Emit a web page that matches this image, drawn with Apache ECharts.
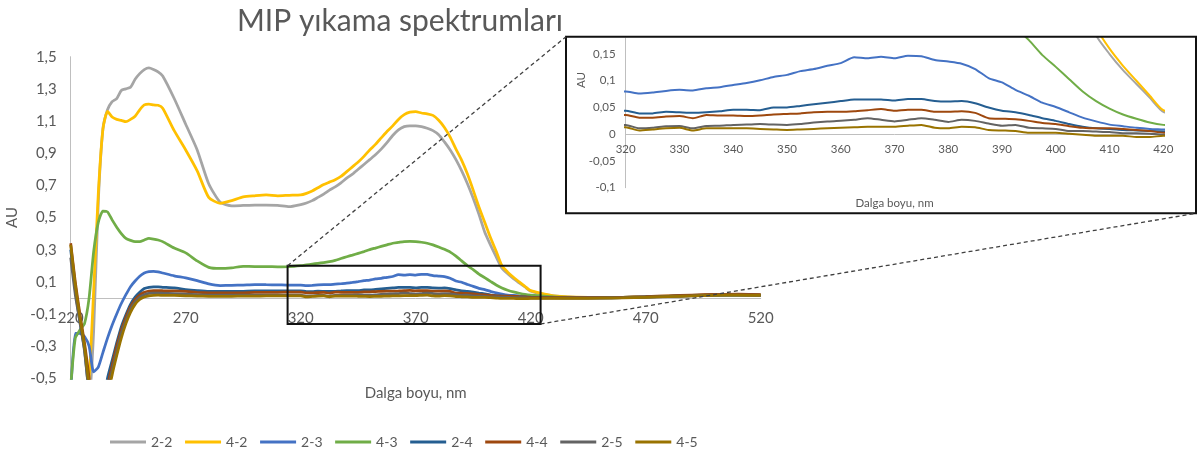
<!DOCTYPE html>
<html>
<head>
<meta charset="utf-8">
<script src="https://cdn.jsdelivr.net/npm/echarts@6/dist/echarts.min.js"></script>
<style>
  html, body { margin: 0; padding: 0; background: #fff; }
  #chart { width: 1198px; height: 457px; }
</style>
</head>
<body>
<div id="chart"></div>
<script>
// Wavelengths (nm) shared by every spectrum
const wavelengths = [
  220, 222, 224, 226, 228, 230, 232, 234, 236, 238, 240, 242, 244, 246, 248, 250, 252, 254, 256, 258, 260,
  265, 270, 275, 280, 285, 290, 295, 300, 305, 310, 315,
  320, 322.5, 325, 327.5, 330, 332.5, 335, 337.5, 340, 342.5,
  345, 347.5, 350, 352.5, 355, 357.5, 360, 362.5, 365, 367.5,
  370, 372.5, 375, 377.5, 380, 382.5, 385, 387.5, 390, 392.5,
  395, 397.5, 400, 402.5, 405, 407.5, 410, 412.5, 415, 417.5,
  420,
  430, 440, 450, 460, 470, 480, 490, 500, 510, 520
];

// Absorbance (AU) of each wash
const s22 = [
  -0.7, -0.7, -0.7, -0.7, -0.65, -0.2, 0.6, 1.05, 1.17, 1.22, 1.24, 1.29, 1.30, 1.31, 1.36, 1.395, 1.42, 1.43, 1.42, 1.405, 1.38,
  1.24, 1.08, 0.92, 0.71, 0.595, 0.573, 0.575, 0.577, 0.577, 0.575, 0.567,
  0.58, 0.59, 0.605, 0.625, 0.645, 0.67, 0.69, 0.715, 0.745, 0.77,
  0.80, 0.83, 0.86, 0.89, 0.925, 0.965, 1.01, 1.045, 1.065, 1.07,
  1.07, 1.065, 1.055, 1.04, 1.015, 0.97, 0.92, 0.86, 0.79, 0.71,
  0.62, 0.52, 0.41, 0.33, 0.255, 0.185, 0.15, 0.12, 0.094, 0.068,
  0.042,
  0.012, 0.004, 0.002, 0.004, 0.007, 0.011, 0.015, 0.018, 0.018, 0.017
];
const s42 = [
  -0.7, -0.7, -0.7, -0.7, -0.5, 0.05, 0.65, 1.05, 1.16, 1.125, 1.11, 1.104, 1.096, 1.11, 1.13, 1.17, 1.2, 1.205, 1.2, 1.198, 1.18,
  1.04, 0.92, 0.79, 0.625, 0.588, 0.605, 0.628, 0.635, 0.64, 0.635, 0.638,
  0.64, 0.65, 0.665, 0.685, 0.705, 0.72, 0.735, 0.755, 0.785, 0.815,
  0.845, 0.88, 0.92, 0.955, 0.995, 1.035, 1.07, 1.11, 1.14, 1.155,
  1.158, 1.15, 1.145, 1.135, 1.105, 1.06, 1.0, 0.925, 0.855, 0.77,
  0.67, 0.565, 0.47, 0.375, 0.29, 0.2, 0.16, 0.128, 0.1, 0.072,
  0.045,
  0.013, 0.005, 0.002, 0.004, 0.007, 0.011, 0.015, 0.019, 0.019, 0.018
];
const s23 = [
  -0.6, -0.22, -0.22, -0.24, -0.3, -0.46, -0.43, -0.34, -0.25, -0.17, -0.1, -0.035, 0.02, 0.07, 0.105, 0.135, 0.155, 0.163, 0.165, 0.162, 0.155,
  0.137, 0.124, 0.107, 0.087, 0.077, 0.078, 0.08, 0.083, 0.082, 0.081, 0.079,
  0.08, 0.076, 0.078, 0.081, 0.083, 0.082, 0.086, 0.088, 0.092, 0.096,
  0.101, 0.107, 0.111, 0.118, 0.122, 0.128, 0.133, 0.144, 0.142, 0.145,
  0.142, 0.147, 0.146, 0.139, 0.136, 0.132, 0.122, 0.105, 0.097, 0.083,
  0.072, 0.059, 0.051, 0.041, 0.031, 0.024, 0.018, 0.015, 0.012, 0.01,
  0.009,
  0.004, 0.002, 0.001, 0.003, 0.006, 0.01, 0.014, 0.017, 0.018, 0.016
];
const s43 = [
  -0.55, -0.25, -0.2, -0.16, 0.0, 0.29, 0.47, 0.54, 0.535, 0.485, 0.44, 0.4, 0.37, 0.358, 0.35, 0.35, 0.36, 0.37, 0.366, 0.36, 0.35,
  0.31, 0.28, 0.23, 0.19, 0.183, 0.187, 0.196, 0.195, 0.195, 0.193, 0.194,
  0.2, 0.205, 0.21, 0.215, 0.22, 0.225, 0.233, 0.245, 0.256, 0.266,
  0.277, 0.288, 0.3, 0.31, 0.32, 0.33, 0.34, 0.345, 0.35, 0.351,
  0.35, 0.346, 0.34, 0.33, 0.317, 0.302, 0.285, 0.26, 0.23, 0.2,
  0.176, 0.148, 0.126, 0.103, 0.08, 0.062, 0.048, 0.037, 0.029, 0.022,
  0.0175,
  0.007, 0.003, 0.001, 0.003, 0.006, 0.01, 0.014, 0.018, 0.018, 0.017
];
const s24 = [
  0.3, 0.05, -0.15, -0.32, -0.6, -0.8, -0.8, -0.7, -0.5, -0.39, -0.28, -0.18, -0.105, -0.04, 0.005, 0.035, 0.058, 0.066, 0.068, 0.068, 0.066,
  0.062, 0.052, 0.045, 0.04, 0.04, 0.04, 0.041, 0.043, 0.043, 0.043, 0.043,
  0.044, 0.039, 0.039, 0.042, 0.041, 0.04, 0.041, 0.043, 0.046, 0.046,
  0.045, 0.05, 0.05, 0.053, 0.056, 0.059, 0.062, 0.065, 0.065, 0.065,
  0.063, 0.066, 0.066, 0.062, 0.061, 0.062, 0.058, 0.05, 0.044, 0.041,
  0.036, 0.03, 0.025, 0.019, 0.014, 0.011, 0.01, 0.008, 0.007, 0.006,
  0.005,
  0.002, 0.0, 0.0, 0.002, 0.006, 0.01, 0.015, 0.019, 0.02, 0.018
];
const s44 = [
  0.34, 0.1, -0.1, -0.28, -0.5, -0.8, -0.8, -0.75, -0.55, -0.42, -0.3, -0.2, -0.12, -0.055, -0.01, 0.018, 0.035, 0.043, 0.046, 0.046, 0.045,
  0.043, 0.04, 0.035, 0.032, 0.031, 0.031, 0.032, 0.034, 0.035, 0.035, 0.036,
  0.036, 0.031, 0.031, 0.033, 0.034, 0.03, 0.036, 0.035, 0.035, 0.034,
  0.035, 0.037, 0.038, 0.039, 0.041, 0.042, 0.042, 0.043, 0.045, 0.047,
  0.044, 0.046, 0.046, 0.042, 0.042, 0.043, 0.04, 0.03, 0.029, 0.028,
  0.025, 0.021, 0.019, 0.015, 0.012, 0.011, 0.011, 0.01, 0.008, 0.006,
  0.003,
  0.001, 0.001, 0.001, 0.004, 0.008, 0.013, 0.018, 0.022, 0.023, 0.021
];
const s25 = [
  0.25, 0.02, -0.15, -0.33, -0.6, -0.8, -0.8, -0.75, -0.58, -0.45, -0.33, -0.22, -0.14, -0.07, -0.025, 0.005, 0.02, 0.028, 0.03, 0.03, 0.029,
  0.027, 0.024, 0.02, 0.018, 0.017, 0.017, 0.017, 0.017, 0.017, 0.017, 0.017,
  0.0175, 0.011, 0.012, 0.015, 0.0155, 0.011, 0.0155, 0.016, 0.0175, 0.018,
  0.019, 0.018, 0.0175, 0.019, 0.022, 0.024, 0.025, 0.027, 0.03, 0.027,
  0.024, 0.027, 0.03, 0.027, 0.023, 0.027, 0.025, 0.02, 0.016, 0.0175,
  0.012, 0.011, 0.01, 0.006, 0.006, 0.005, 0.004, 0.002, 0.002, 0.001,
  -0.001,
  -0.001, -0.002, -0.001, 0.001, 0.005, 0.009, 0.013, 0.017, 0.018, 0.016
];
const s45 = [
  0.33, 0.08, -0.12, -0.3, -0.55, -0.8, -0.8, -0.8, -0.62, -0.48, -0.36, -0.25, -0.16, -0.09, -0.04, -0.01, 0.005, 0.013, 0.016, 0.017, 0.016,
  0.015, 0.013, 0.011, 0.01, 0.01, 0.01, 0.011, 0.011, 0.012, 0.012, 0.012,
  0.013, 0.007, 0.009, 0.011, 0.012, 0.007, 0.011, 0.011, 0.011, 0.011,
  0.01, 0.009, 0.008, 0.009, 0.01, 0.011, 0.012, 0.013, 0.014, 0.014,
  0.014, 0.016, 0.0175, 0.012, 0.011, 0.014, 0.013, 0.008, 0.007, 0.006,
  0.003, 0.003, 0.003, 0.001, -0.001, -0.003, -0.003, -0.003, -0.005, -0.005,
  -0.003,
  -0.003, -0.003, -0.002, 0.0, 0.004, 0.008, 0.012, 0.016, 0.017, 0.015
];

const seriesNames = ['2-2', '4-2', '2-3', '4-3', '2-4', '4-4', '2-5', '4-5'];
const seriesValues = [s22, s42, s23, s43, s24, s44, s25, s45];
const seriesColors = ['#A5A5A5', '#FFC000', '#4472C4', '#70AD47', '#255E91', '#9E480E', '#636363', '#997300'];

// Axis ticks
const mainXTicks = { min: 220, max: 520, step: 50 };
const mainYTicks = { min: -0.5, max: 1.5, step: 0.2 };
const zoomXTicks = { min: 320, max: 420, step: 10 };
const zoomYTicks = { min: -0.1, max: 0.18, step: 0.05 };
// Zoomed window marked on the main plot
const zoomWindow = { x0: 314.3, x1: 424.3, y0: -0.162, y1: 0.2 };

const FONT = 'Lato, "Open Sans", sans-serif';
const TEXT = '#595959';
const AXIS = '#BFBFBF';

const MAIN_GRID = { left: 70.7, top: 56.7, width: 690, height: 321.6 };
const ZOOM_GRID = { left: 625.7, top: 38, width: 537.6, height: 149.7 };
const INSET_BOX = { x: 566, y: 36.7, w: 630, h: 176.6 };

// Lift each horizontal axis from the grid bottom up to the zero level
const zeroLift = (grid, t) => -grid.height * (0 - t.min) / (t.max - t.min);

const chart = echarts.init(document.getElementById('chart'), null, { renderer: 'canvas' });

const pairs = vals => wavelengths.map((w, i) => [w, vals[i]]);
const comma = (v, d) => {
  const r = Math.round(v * Math.pow(10, d)) / Math.pow(10, d);
  return String(r).replace('.', ',');
};

const series = [];
seriesNames.forEach((name, i) => {
  series.push({
    name, type: 'line', xAxisIndex: 0, yAxisIndex: 0,
    data: pairs(seriesValues[i]), showSymbol: false, smooth: 0.2,
    lineStyle: { color: seriesColors[i], width: 2.75 }, itemStyle: { color: seriesColors[i] },
    clip: true, silent: true
  });
});
seriesNames.forEach((name, i) => {
  series.push({
    name, type: 'line', xAxisIndex: 1, yAxisIndex: 1,
    data: pairs(seriesValues[i]), showSymbol: false, smooth: 0.2,
    lineStyle: { color: seriesColors[i], width: 2 }, itemStyle: { color: seriesColors[i] },
    clip: true, silent: true
  });
});

chart.setOption({
  animation: false,
  backgroundColor: '#fff',
  textStyle: { fontFamily: FONT },
  grid: [
    Object.assign({ containLabel: false, outerBoundsMode: 'none' }, MAIN_GRID),
    Object.assign({ containLabel: false, outerBoundsMode: 'none' }, ZOOM_GRID)
  ],
  legend: {
    data: seriesNames, left: 110, top: 435, padding: 0,
    icon: 'rect', itemWidth: 36, itemHeight: 3, itemGap: 12.6,
    textStyle: { color: TEXT, fontSize: 14, fontFamily: FONT },
    selectedMode: false
  },
  xAxis: [
    {
      type: 'value', gridIndex: 0, min: mainXTicks.min, max: mainXTicks.max, interval: mainXTicks.step,
      position: 'bottom', offset: zeroLift(MAIN_GRID, mainYTicks),
      axisLine: { onZero: false, lineStyle: { color: AXIS, width: 1 } },
      axisTick: { show: false }, splitLine: { show: false },
      axisLabel: { color: TEXT, fontSize: 15, margin: 13, fontFamily: FONT },
      name: 'Dalga boyu, nm', nameLocation: 'middle', nameGap: 88,
      nameTextStyle: { color: TEXT, fontSize: 15, fontFamily: FONT }
    },
    {
      type: 'value', gridIndex: 1, min: zoomXTicks.min, max: zoomXTicks.max, interval: zoomXTicks.step,
      position: 'bottom', offset: zeroLift(ZOOM_GRID, zoomYTicks),
      axisLine: { onZero: false, lineStyle: { color: AXIS, width: 1 } },
      axisTick: { show: false }, splitLine: { show: false },
      axisLabel: { color: TEXT, fontSize: 11.5, margin: 9.5, fontFamily: FONT },
      name: 'Dalga boyu, nm', nameLocation: 'middle', nameGap: 63,
      nameTextStyle: { color: TEXT, fontSize: 11.5, fontFamily: FONT }
    }
  ],
  yAxis: [
    {
      type: 'value', gridIndex: 0, min: mainYTicks.min, max: mainYTicks.max, interval: mainYTicks.step,
      axisLine: { show: true, onZero: false, lineStyle: { color: AXIS, width: 1 } },
      axisTick: { show: false }, splitLine: { show: false },
      axisLabel: { color: TEXT, fontSize: 15, margin: 14, fontFamily: FONT, formatter: v => comma(v, 1) },
      name: 'AU', nameLocation: 'middle', nameGap: 46,
      nameTextStyle: { color: TEXT, fontSize: 15, fontFamily: FONT }
    },
    {
      type: 'value', gridIndex: 1, min: zoomYTicks.min, max: zoomYTicks.max, interval: zoomYTicks.step,
      axisLine: { show: true, onZero: false, lineStyle: { color: AXIS, width: 1 } },
      axisTick: { show: false }, splitLine: { show: false },
      axisLabel: { color: TEXT, fontSize: 11.5, margin: 10, fontFamily: FONT, showMaxLabel: false, formatter: v => comma(v, 2) }
    }
  ],
  series
});

// Frames, connector lines, title and inset axis title
const p0 = chart.convertToPixel({ gridIndex: 0 }, [zoomWindow.x0, zoomWindow.y1]);
const p1 = chart.convertToPixel({ gridIndex: 0 }, [zoomWindow.x1, zoomWindow.y0]);
const dash = { stroke: '#404040', lineWidth: 1.3, lineDash: [4, 3] };

chart.setOption({
  graphic: [
    { type: 'rect', z: -10, shape: { x: INSET_BOX.x, y: INSET_BOX.y, width: INSET_BOX.w, height: INSET_BOX.h },
      style: { fill: '#fff', stroke: 'none' }, silent: true },
    { type: 'rect', z: 100, shape: { x: INSET_BOX.x, y: INSET_BOX.y, width: INSET_BOX.w, height: INSET_BOX.h },
      style: { fill: 'none', stroke: '#111', lineWidth: 2 }, silent: true },
    { type: 'rect', z: 100, shape: { x: p0[0], y: p0[1], width: p1[0] - p0[0], height: p1[1] - p0[1] },
      style: { fill: 'none', stroke: '#111', lineWidth: 2 }, silent: true },
    { type: 'line', z: 100, shape: { x1: p0[0], y1: p0[1], x2: INSET_BOX.x, y2: INSET_BOX.y }, style: dash, silent: true },
    { type: 'line', z: 100, shape: { x1: p1[0], y1: p1[1], x2: INSET_BOX.x + INSET_BOX.w, y2: INSET_BOX.y + INSET_BOX.h }, style: dash, silent: true },
    { type: 'text', z: 100, x: 400, y: 21,
      style: { text: 'MIP yıkama spektrumları', font: '30px ' + FONT, fill: TEXT, align: 'center', verticalAlign: 'middle' }, silent: true },
    { type: 'text', z: 100, x: 581, y: 80, rotation: Math.PI / 2,
      style: { text: 'AU', font: '11.5px ' + FONT, fill: TEXT, align: 'center', verticalAlign: 'middle' }, silent: true }
  ]
});
</script>
</body>
</html>
